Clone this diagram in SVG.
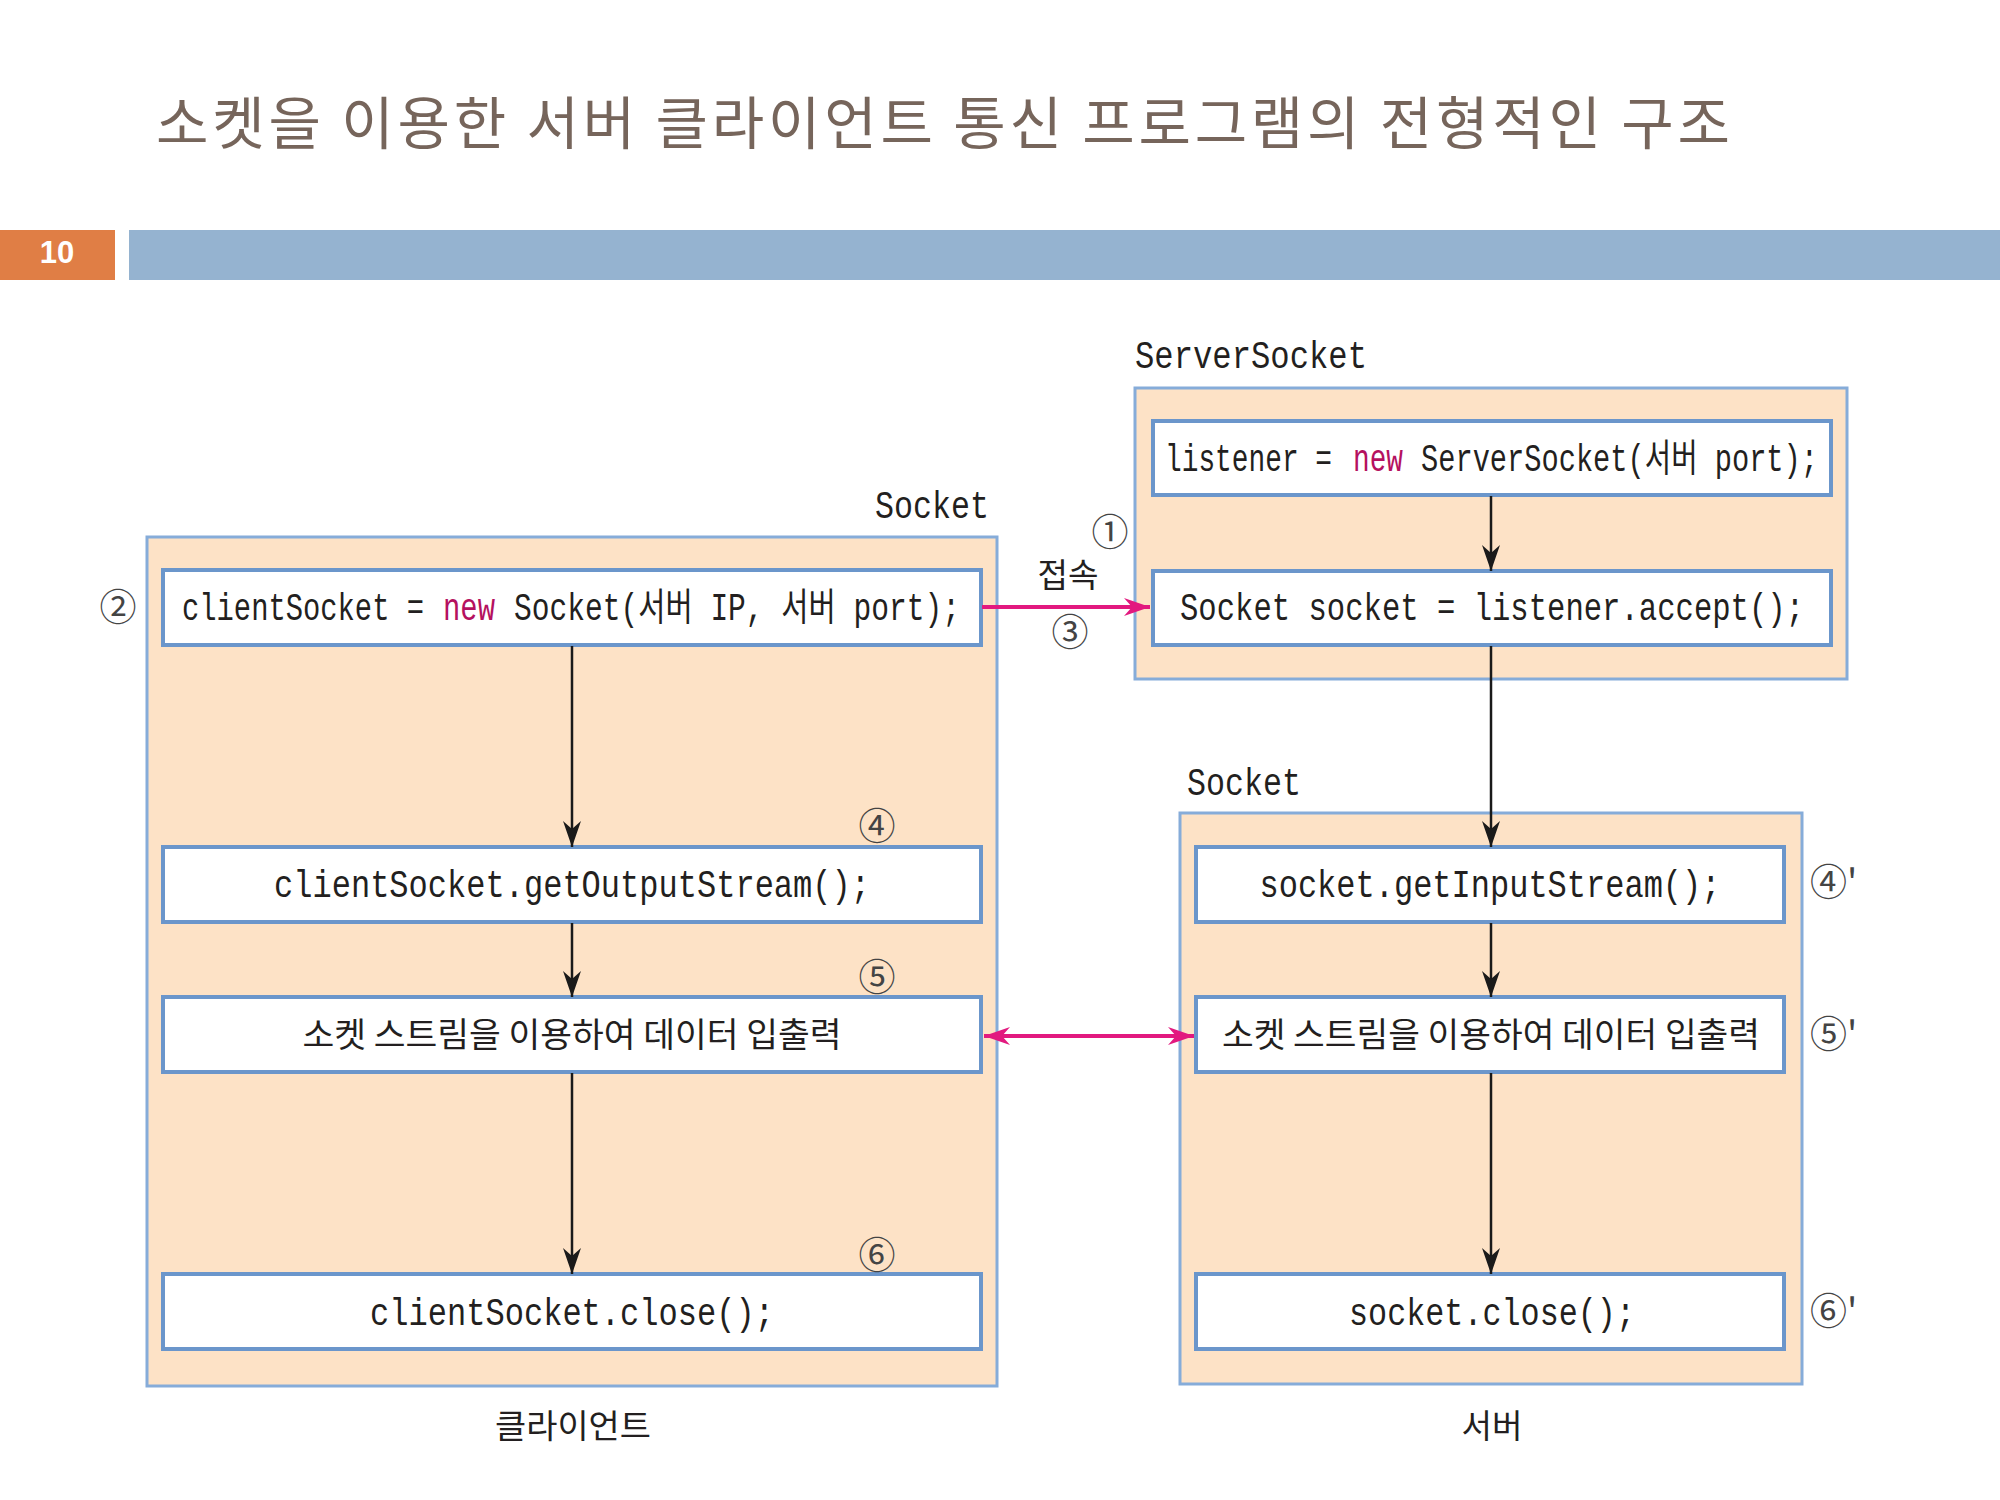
<svg xmlns="http://www.w3.org/2000/svg" width="2000" height="1500" viewBox="0 0 2000 1500">
<defs>
<style>
.title{font-family:"Noto Sans CJK KR","Noto Sans",sans-serif;font-size:57px;fill:#76655b}
.pg{font-family:"Liberation Sans",Arial,sans-serif;font-size:31px;font-weight:bold;fill:#ffffff}
.outer{fill:#fde2c6;stroke:#86acd9;stroke-width:3}
.inner{fill:#ffffff;stroke:#6b96cb;stroke-width:4}
.code{font-family:"Liberation Mono","Noto Sans CJK KR",monospace;font-size:38px;fill:#231f20}
.kw{fill:#b5115f}
.lbl{font-family:"Liberation Mono","Noto Sans CJK KR",monospace;font-size:38px;fill:#231f20}
.ko{font-family:"Noto Sans CJK KR",sans-serif;font-size:34px;fill:#231f20}
.cap{font-family:"Noto Sans CJK KR",sans-serif;font-size:33px;fill:#231f20}
.num{font-family:"Noto Sans CJK KR",sans-serif;font-size:37px;fill:#444444}
.blk{stroke:#1a1a1a;stroke-width:2.5;fill:none}
.pink{stroke:#e2197f;stroke-width:4;fill:none}
</style>
<marker id="ah" viewBox="0 0 26 20" refX="26" refY="10" markerWidth="26" markerHeight="20" markerUnits="userSpaceOnUse" orient="auto">
<path d="M0,1 L26,10 L0,19 L8,10 z" fill="#1a1a1a"/>
</marker>
<marker id="ap" viewBox="0 0 26 20" refX="26" refY="10" markerWidth="26" markerHeight="20" markerUnits="userSpaceOnUse" orient="auto-start-reverse">
<path d="M0,1 L26,10 L0,19 L8,10 z" fill="#e2197f"/>
</marker>
</defs>
<rect x="0" y="0" width="2000" height="1500" fill="#ffffff"/>

<g id="header">
<text class="title" x="156" y="144" textLength="1574" lengthAdjust="spacing">소켓을 이용한 서버 클라이언트 통신 프로그램의 전형적인 구조</text>
<rect x="0" y="230" width="115" height="50" fill="#e07e45"/>
<rect x="129" y="230" width="1871" height="50" fill="#95b3d0"/>
<text class="pg" x="57" y="263" text-anchor="middle">10</text>
</g>

<g id="client">
<rect class="outer" x="147" y="537" width="850" height="849"/>
<text class="lbl" x="875" y="518" textLength="114" lengthAdjust="spacingAndGlyphs">Socket</text>
<text class="cap" x="573" y="1438" text-anchor="middle" textLength="156" lengthAdjust="spacingAndGlyphs">클라이언트</text>
</g>

<g id="client-new-socket">
<rect class="inner" x="163" y="570" width="818" height="75"/>
<text class="code" x="182" y="620" textLength="242" lengthAdjust="spacingAndGlyphs">clientSocket =</text>
<text class="code kw" x="443" y="620" textLength="52" lengthAdjust="spacingAndGlyphs">new</text>
<text class="code" x="514" y="620" textLength="446" lengthAdjust="spacingAndGlyphs">Socket(서버 IP, 서버 port);</text>
<text class="num" x="118" y="621" text-anchor="middle">②</text>
</g>

<g id="client-output-stream">
<rect class="inner" x="163" y="847" width="818" height="75"/>
<text class="code" x="572" y="897" text-anchor="middle" textLength="596" lengthAdjust="spacingAndGlyphs">clientSocket.getOutputStream();</text>
<text class="num" x="877" y="840" text-anchor="middle">④</text>
</g>

<g id="client-io">
<rect class="inner" x="163" y="997" width="818" height="75"/>
<text class="ko" x="572" y="1047" text-anchor="middle" textLength="539" lengthAdjust="spacingAndGlyphs">소켓 스트림을 이용하여 데이터 입출력</text>
<text class="num" x="877" y="991" text-anchor="middle">⑤</text>
</g>

<g id="client-close">
<rect class="inner" x="163" y="1274" width="818" height="75"/>
<text class="code" x="572" y="1325" text-anchor="middle" textLength="404" lengthAdjust="spacingAndGlyphs">clientSocket.close();</text>
<text class="num" x="877" y="1269" text-anchor="middle">⑥</text>
</g>

<g id="server-socket">
<rect class="outer" x="1135" y="388" width="712" height="291"/>
<text class="lbl" x="1135" y="368" textLength="232" lengthAdjust="spacingAndGlyphs">ServerSocket</text>
</g>

<g id="server-listener">
<rect class="inner" x="1153" y="421" width="678" height="74"/>
<text class="code" x="1165" y="471" textLength="167" lengthAdjust="spacingAndGlyphs">listener =</text>
<text class="code kw" x="1353" y="471" textLength="50" lengthAdjust="spacingAndGlyphs">new</text>
<text class="code" x="1421" y="471" textLength="397" lengthAdjust="spacingAndGlyphs">ServerSocket(서버 port);</text>
<text class="num" x="1110" y="546" text-anchor="middle">①</text>
</g>

<g id="server-accept">
<rect class="inner" x="1153" y="571" width="678" height="74"/>
<text class="code" x="1492" y="620" text-anchor="middle" textLength="624" lengthAdjust="spacingAndGlyphs">Socket socket = listener.accept();</text>
</g>

<g id="server">
<rect class="outer" x="1180" y="813" width="622" height="571"/>
<text class="lbl" x="1187" y="795" textLength="114" lengthAdjust="spacingAndGlyphs">Socket</text>
<text class="cap" x="1492" y="1438" text-anchor="middle" textLength="61" lengthAdjust="spacingAndGlyphs">서버</text>
</g>

<g id="server-input-stream">
<rect class="inner" x="1196" y="847" width="588" height="75"/>
<text class="code" x="1490" y="897" text-anchor="middle" textLength="461" lengthAdjust="spacingAndGlyphs">socket.getInputStream();</text>
<text class="num" x="1810" y="896">④'</text>
</g>

<g id="server-io">
<rect class="inner" x="1196" y="997" width="588" height="75"/>
<text class="ko" x="1491" y="1047" text-anchor="middle" textLength="538" lengthAdjust="spacingAndGlyphs">소켓 스트림을 이용하여 데이터 입출력</text>
<text class="num" x="1810" y="1048">⑤'</text>
</g>

<g id="server-close">
<rect class="inner" x="1196" y="1274" width="588" height="75"/>
<text class="code" x="1492" y="1325" text-anchor="middle" textLength="286" lengthAdjust="spacingAndGlyphs">socket.close();</text>
<text class="num" x="1810" y="1325">⑥'</text>
</g>

<g id="connectors">
<line class="blk" x1="572" y1="646" x2="572" y2="847" marker-end="url(#ah)"/>
<line class="blk" x1="572" y1="923" x2="572" y2="997" marker-end="url(#ah)"/>
<line class="blk" x1="572" y1="1073" x2="572" y2="1274" marker-end="url(#ah)"/>
<line class="blk" x1="1491" y1="496" x2="1491" y2="571" marker-end="url(#ah)"/>
<line class="blk" x1="1491" y1="646" x2="1491" y2="847" marker-end="url(#ah)"/>
<line class="blk" x1="1491" y1="923" x2="1491" y2="997" marker-end="url(#ah)"/>
<line class="blk" x1="1491" y1="1073" x2="1491" y2="1274" marker-end="url(#ah)"/>
<line class="pink" x1="982" y1="607" x2="1150" y2="607" marker-end="url(#ap)"/>
<line class="pink" x1="984" y1="1036" x2="1194" y2="1036" marker-start="url(#ap)" marker-end="url(#ap)"/>
<text class="cap" x="1068" y="587" text-anchor="middle" font-size="30" textLength="61" lengthAdjust="spacingAndGlyphs">접속</text>
<text class="num" x="1070" y="646" text-anchor="middle">③</text>
</g>
</svg>
